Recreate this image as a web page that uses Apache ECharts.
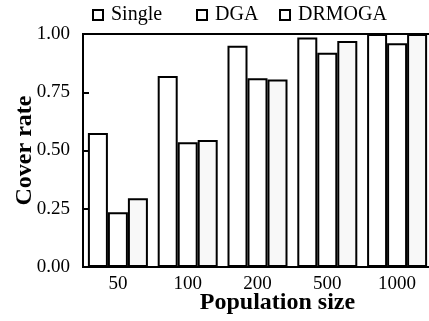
<!DOCTYPE html>
<html>
<head>
<meta charset="utf-8">
<script src="https://cdn.jsdelivr.net/npm/echarts@6/dist/echarts.min.js"></script>
<style>
html,body{margin:0;padding:0;background:#fff;}
#chart{width:429px;height:321px;}
</style>
</head>
<body>
<div id="chart"></div>
<script>
var categories = ['50', '100', '200', '500', '1000'];
var singleValues = [0.575, 0.82, 0.95, 0.985, 1.0];
var dgaValues = [0.235, 0.535, 0.81, 0.92, 0.96];
var drmogaValues = [0.295, 0.545, 0.805, 0.97, 1.0];
var yTicks = [0, 0.25, 0.5, 0.75, 1.0];

var FONT = '"Liberation Serif", "Times New Roman", serif';
var chart = echarts.init(document.getElementById('chart'));

function legendAt(name, left) {
  return {
    data: [name], left: left, top: 5, padding: 0, icon: 'rect', itemWidth: 10, itemHeight: 10,
    itemStyle: {color: '#fff', borderColor: '#000', borderWidth: 2},
    textStyle: {fontFamily: FONT, fontSize: 20, color: '#000', padding: [0, 0, 0, 3]}
  };
}
function barSeries(name, data, fill) {
  return {
    name: name, type: 'bar', data: data, barWidth: 20, barGap: '0%',
    itemStyle: {color: fill, borderColor: '#000', borderWidth: 2},
    emphasis: {disabled: true}
  };
}

chart.setOption({
  animation: false,
  backgroundColor: '#fff',
  legend: [legendAt('Single', 92), legendAt('DGA', 196), legendAt('DRMOGA', 279)],
  grid: {left: 83, top: 34, bottom: 54, right: -3, containLabel: false, outerBoundsMode: 'none',
    show: true, borderColor: '#000', borderWidth: 2, backgroundColor: 'transparent'},
  xAxis: {
    type: 'category', data: categories,
    axisLine: {lineStyle: {color: '#000', width: 2}},
    axisTick: {show: false},
    axisLabel: {fontFamily: FONT, fontSize: 19, color: '#000', margin: 8},
    name: 'Population size', nameLocation: 'middle', nameGap: 24, nameMoveOverlap: false,
    nameTextStyle: {fontFamily: FONT, fontSize: 24, fontWeight: 'bold', color: '#000', padding: [0, 0, 0, 40]}
  },
  yAxis: {
    type: 'value', min: 0, max: 1, interval: 0.25,
    axisLine: {show: true, lineStyle: {color: '#000', width: 2}},
    axisTick: {show: true, inside: true, length: 6, lineStyle: {color: '#000', width: 2}},
    splitLine: {show: false},
    axisLabel: {fontFamily: FONT, fontSize: 19, color: '#000', margin: 13,
      formatter: function (v) { return v.toFixed(2); }},
    name: 'Cover rate', nameLocation: 'middle', nameGap: 46, nameRotate: 90, nameMoveOverlap: false,
    nameTextStyle: {fontFamily: FONT, fontSize: 24, fontWeight: 'bold', color: '#000'}
  },
  series: [
    barSeries('Single', singleValues, '#fff'),
    barSeries('DGA', dgaValues, '#fff'),
    barSeries('DRMOGA', drmogaValues, '#f8f8f8')
  ]
});
</script>
</body>
</html>
